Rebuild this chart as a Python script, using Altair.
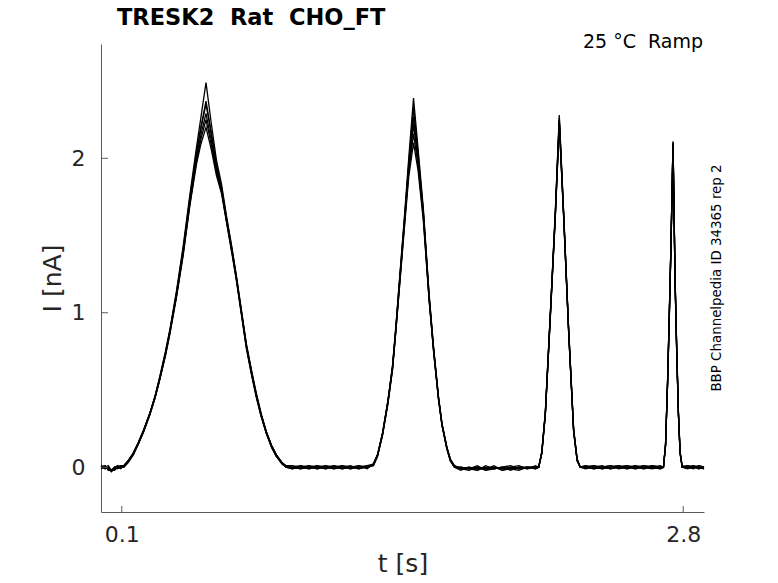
import altair as alt
import pandas as pd

FONT = "DejaVu Sans"
AXIS_COL = "#5a5a5a"
TEXT_COL = "#262626"

# time points (s)
t_values = [
    0.000, 0.020, 0.035, 0.050, 0.065, 0.080, 0.095,
    0.110, 0.130, 0.155, 0.180, 0.205, 0.235, 0.260, 0.283, 0.310, 0.331,
    0.363, 0.395, 0.427, 0.459, 0.480, 0.505, 0.530, 0.555, 0.580, 0.603,
    0.630, 0.651, 0.675, 0.699, 0.725, 0.747, 0.770, 0.795, 0.820, 0.843,
    0.870, 0.890,
    0.92, 0.96, 1.00, 1.04, 1.08, 1.12, 1.16, 1.20, 1.24, 1.28,
    1.310, 1.330, 1.354, 1.380, 1.402, 1.418, 1.434, 1.458, 1.480, 1.503,
    1.525, 1.550, 1.578, 1.600, 1.623, 1.640, 1.663, 1.680, 1.700,
    1.73, 1.77, 1.81, 1.85, 1.89, 1.93, 1.97, 2.01, 2.05, 2.09,
    2.105, 2.120, 2.137, 2.161, 2.185, 2.204, 2.225, 2.249, 2.273, 2.290, 2.305,
    2.33, 2.37, 2.41, 2.45, 2.49, 2.53, 2.57, 2.61, 2.65, 2.69,
    2.705, 2.715, 2.725, 2.733, 2.741, 2.751, 2.761, 2.769, 2.777, 2.785, 2.795,
    2.82, 2.85, 2.875, 2.90,
]

# current traces (nA), one list per sweep
sweep_1 = [
    0.00, 0.01, -0.02, -0.02, 0.00, 0.01, 0.00,
    0.01, 0.04, 0.09, 0.16, 0.24, 0.35, 0.46, 0.59, 0.75, 0.89,
    1.14, 1.43, 1.76, 2.07, 2.26, 2.49, 2.23, 1.99, 1.83, 1.63,
    1.42, 1.24, 1.02, 0.80, 0.62, 0.48, 0.35, 0.23, 0.14, 0.08,
    0.03, 0.01,
    0.00, -0.01, 0.01, 0.00, -0.01, 0.01, 0.00, -0.01, 0.01, 0.00,
    0.02, 0.08, 0.22, 0.43, 0.66, 0.91, 1.19, 1.60, 2.00, 2.39,
    2.06, 1.68, 1.12, 0.77, 0.46, 0.28, 0.13, 0.05, 0.01,
    -0.01, 0.00, -0.02, 0.01, -0.01, 0.00, 0.01, -0.01, 0.00, 0.00,
    0.00, 0.10, 0.36, 1.00, 1.66, 2.28, 1.65, 0.90, 0.25, 0.05, 0.00,
    0.01, -0.01, 0.00, 0.01, -0.01, 0.00, 0.01, 0.00, -0.01, 0.00,
    0.00, 0.15, 0.57, 0.99, 1.44, 2.11, 1.22, 0.76, 0.36, 0.10, 0.01,
    0.00, 0.01, -0.01, 0.00,
]
sweep_2 = [
    0.01, 0.00, -0.01, -0.03, -0.01, 0.00, 0.01,
    0.01, 0.04, 0.09, 0.16, 0.24, 0.35, 0.46, 0.58, 0.74, 0.88,
    1.13, 1.41, 1.74, 2.04, 2.20, 2.37, 2.17, 1.96, 1.81, 1.62,
    1.41, 1.23, 1.01, 0.79, 0.61, 0.47, 0.34, 0.23, 0.14, 0.08,
    0.03, 0.00,
    -0.01, 0.01, 0.00, -0.01, 0.01, 0.00, -0.01, 0.00, 0.01, -0.01,
    0.02, 0.08, 0.22, 0.43, 0.65, 0.90, 1.18, 1.58, 1.97, 2.33,
    2.03, 1.66, 1.11, 0.76, 0.45, 0.28, 0.13, 0.05, 0.00,
    0.00, -0.01, 0.01, -0.02, 0.00, -0.01, 0.00, 0.01, -0.01, 0.00,
    0.00, 0.10, 0.35, 0.99, 1.65, 2.26, 1.64, 0.89, 0.24, 0.05, 0.00,
    0.00, 0.01, -0.01, 0.00, 0.01, -0.01, 0.00, 0.01, 0.00, -0.01,
    0.00, 0.15, 0.56, 0.98, 1.43, 2.10, 1.21, 0.75, 0.35, 0.10, 0.00,
    0.01, 0.00, 0.00, -0.01,
]
sweep_3 = [
    0.00, -0.01, 0.00, -0.02, 0.00, -0.01, 0.00,
    0.01, 0.04, 0.09, 0.16, 0.24, 0.35, 0.46, 0.58, 0.74, 0.88,
    1.12, 1.40, 1.73, 2.03, 2.19, 2.35, 2.16, 1.95, 1.80, 1.61,
    1.40, 1.23, 1.01, 0.79, 0.61, 0.47, 0.34, 0.23, 0.14, 0.08,
    0.03, 0.01,
    0.01, 0.00, -0.01, 0.00, 0.01, -0.01, 0.00, 0.01, -0.01, 0.00,
    0.02, 0.08, 0.22, 0.43, 0.65, 0.90, 1.17, 1.57, 1.95, 2.27,
    2.00, 1.65, 1.10, 0.76, 0.45, 0.28, 0.13, 0.05, 0.01,
    -0.01, -0.02, 0.00, -0.01, 0.01, -0.02, -0.01, 0.00, 0.00, -0.01,
    0.00, 0.10, 0.35, 0.99, 1.64, 2.25, 1.64, 0.89, 0.24, 0.05, 0.00,
    -0.01, 0.00, 0.01, -0.01, 0.00, 0.01, -0.01, 0.00, 0.01, 0.00,
    0.00, 0.14, 0.56, 0.98, 1.43, 2.09, 1.21, 0.75, 0.35, 0.10, 0.00,
    0.00, -0.01, 0.01, 0.00,
]
sweep_4 = [
    -0.01, 0.00, 0.01, -0.02, -0.02, 0.00, -0.01,
    0.01, 0.04, 0.09, 0.16, 0.24, 0.35, 0.45, 0.57, 0.73, 0.87,
    1.11, 1.39, 1.71, 2.00, 2.15, 2.29, 2.12, 1.93, 1.79, 1.60,
    1.40, 1.22, 1.00, 0.78, 0.60, 0.46, 0.34, 0.22, 0.14, 0.08,
    0.03, 0.00,
    0.00, 0.01, -0.01, 0.01, 0.00, -0.01, 0.01, 0.00, -0.01, 0.01,
    0.02, 0.08, 0.21, 0.42, 0.64, 0.89, 1.16, 1.56, 1.93, 2.22,
    1.98, 1.64, 1.09, 0.75, 0.45, 0.27, 0.13, 0.05, 0.00,
    0.00, -0.01, -0.02, 0.00, -0.01, 0.00, -0.02, 0.00, -0.01, 0.01,
    0.00, 0.09, 0.35, 0.98, 1.63, 2.24, 1.63, 0.88, 0.24, 0.05, 0.00,
    0.00, -0.01, 0.00, 0.01, 0.00, -0.01, 0.01, -0.01, 0.00, 0.01,
    0.00, 0.14, 0.55, 0.97, 1.42, 2.10, 1.20, 0.74, 0.35, 0.09, 0.00,
    -0.01, 0.00, 0.01, 0.00,
]
sweep_5 = [
    0.00, 0.01, -0.01, -0.02, -0.01, 0.01, 0.00,
    0.00, 0.03, 0.08, 0.15, 0.23, 0.34, 0.45, 0.57, 0.73, 0.87,
    1.11, 1.38, 1.70, 1.98, 2.12, 2.25, 2.09, 1.91, 1.78, 1.60,
    1.39, 1.22, 1.00, 0.78, 0.60, 0.46, 0.33, 0.22, 0.13, 0.07,
    0.03, 0.00,
    -0.01, 0.00, 0.01, -0.01, 0.00, 0.01, -0.01, 0.00, 0.00, 0.01,
    0.01, 0.07, 0.21, 0.42, 0.64, 0.88, 1.15, 1.55, 1.91, 2.16,
    1.95, 1.62, 1.09, 0.75, 0.44, 0.27, 0.12, 0.04, 0.00,
    -0.02, 0.00, -0.01, -0.01, 0.00, -0.02, 0.00, -0.01, 0.00, -0.01,
    0.00, 0.09, 0.34, 0.98, 1.63, 2.23, 1.62, 0.88, 0.23, 0.04, 0.00,
    0.01, 0.00, -0.01, 0.00, 0.01, 0.00, -0.01, 0.01, 0.00, -0.01,
    0.00, 0.14, 0.55, 0.97, 1.42, 2.08, 1.20, 0.74, 0.34, 0.09, 0.00,
    0.00, 0.01, 0.00, -0.01,
]
sweep_6 = [
    0.01, -0.01, 0.00, -0.02, 0.00, 0.00, 0.01,
    0.00, 0.03, 0.08, 0.15, 0.23, 0.34, 0.45, 0.57, 0.72, 0.86,
    1.10, 1.37, 1.69, 1.96, 2.09, 2.20, 2.06, 1.89, 1.77, 1.59,
    1.38, 1.21, 0.99, 0.77, 0.59, 0.45, 0.33, 0.22, 0.13, 0.07,
    0.02, 0.00,
    0.00, -0.01, 0.00, 0.01, -0.01, 0.00, 0.01, -0.01, 0.00, 0.00,
    0.01, 0.07, 0.21, 0.41, 0.63, 0.88, 1.14, 1.53, 1.88, 2.10,
    1.92, 1.60, 1.08, 0.74, 0.44, 0.27, 0.12, 0.04, 0.00,
    -0.01, -0.01, 0.00, -0.02, -0.01, 0.00, -0.01, -0.02, 0.00, 0.00,
    0.00, 0.09, 0.34, 0.97, 1.62, 2.22, 1.62, 0.87, 0.23, 0.04, 0.00,
    0.00, 0.01, 0.00, -0.01, 0.00, 0.01, 0.00, -0.01, 0.01, 0.00,
    0.00, 0.14, 0.55, 0.96, 1.41, 2.09, 1.19, 0.73, 0.34, 0.09, 0.00,
    0.01, 0.00, -0.01, 0.00,
]

sweep_names = ["s1", "s2", "s3", "s4", "s5", "s6"]
sweeps = [sweep_1, sweep_2, sweep_3, sweep_4, sweep_5, sweep_6]

x_ticks = [0.1, 2.8]
y_ticks = [0, 1, 2]
x_domain = [0.0, 2.9]
y_domain = [-0.29, 2.74]

title_text = ["TRESK2\u00a0 Rat\u00a0 CHO_FT"]
condition_text = ["25 \u00b0C\u00a0 Ramp"]
source_text = ["BBP Channelpedia ID 34365 rep 2"]

rows = []
for name, vals in zip(sweep_names, sweeps):
    for t, v in zip(t_values, vals):
        rows.append({"t": t, "I": v, "sweep": name})
df = pd.DataFrame(rows)

W, H = 603, 468

x_scale = alt.Scale(domain=x_domain, nice=False, zero=False)
y_scale = alt.Scale(domain=y_domain, nice=False, zero=False)

x_axis = alt.Axis(values=x_ticks, format=".1f", title="t [s]", tickSize=0,
                  labelPadding=12, labelFontSize=22, labelFont=FONT,
                  labelColor=TEXT_COL, labelFlush=False,
                  titleFontSize=25, titleFont=FONT, titleFontWeight="normal",
                  titleColor=TEXT_COL, titlePadding=6,
                  domainColor=AXIS_COL, domainWidth=1, grid=False)
y_axis = alt.Axis(values=y_ticks, format="d", title="I [nA]", tickSize=0,
                  labelPadding=16, labelFontSize=22, labelFont=FONT,
                  labelColor=TEXT_COL, labelFlush=False,
                  titleFontSize=25, titleFont=FONT, titleFontWeight="normal",
                  titleColor=TEXT_COL, titlePadding=6,
                  domainColor=AXIS_COL, domainWidth=1, grid=False)

lines = alt.Chart(df).mark_line(color="black", strokeWidth=1.3).encode(
    x=alt.X("t:Q", scale=x_scale, axis=x_axis),
    y=alt.Y("I:Q", scale=y_scale, axis=y_axis),
    detail="sweep:N",
    order="t:Q",
)

xt = alt.Chart(pd.DataFrame({"t": x_ticks})).mark_rule(
    color=AXIS_COL, strokeWidth=1
).encode(
    x=alt.X("t:Q", scale=x_scale, axis=x_axis),
    y=alt.value(H),
    y2=alt.value(H - 6),
)

yt = alt.Chart(pd.DataFrame({"I": y_ticks})).mark_rule(
    color=AXIS_COL, strokeWidth=1
).encode(
    y=alt.Y("I:Q", scale=y_scale, axis=y_axis),
    x=alt.value(0),
    x2=alt.value(7),
)

ttl = alt.Chart(pd.DataFrame({"label": title_text})).mark_text(
    align="left", baseline="alphabetic", fontSize=22.5, fontWeight="bold",
    font=FONT, color="black"
).encode(x=alt.value(16), y=alt.value(-19), text="label:N")

cond = alt.Chart(pd.DataFrame({"label": condition_text})).mark_text(
    align="right", baseline="alphabetic", fontSize=19, font=FONT, color="black"
).encode(x=alt.value(W - 1), y=alt.value(4), text="label:N")

src = alt.Chart(pd.DataFrame({"label": source_text})).mark_text(
    align="center", baseline="middle", angle=270, fontSize=13.4, font=FONT,
    color="black"
).encode(x=alt.value(W + 13), y=alt.value(H / 2), text="label:N")

chart = alt.layer(lines, xt, yt, ttl, cond, src).properties(
    width=W,
    height=H,
    padding={"left": 93, "top": 36, "right": 60, "bottom": 63},
    autosize=alt.AutoSizeParams(type="none"),
).configure(background="white").configure_view(stroke=None)

chart.save("out.html", embed_options={"renderer": "svg", "actions": False})
